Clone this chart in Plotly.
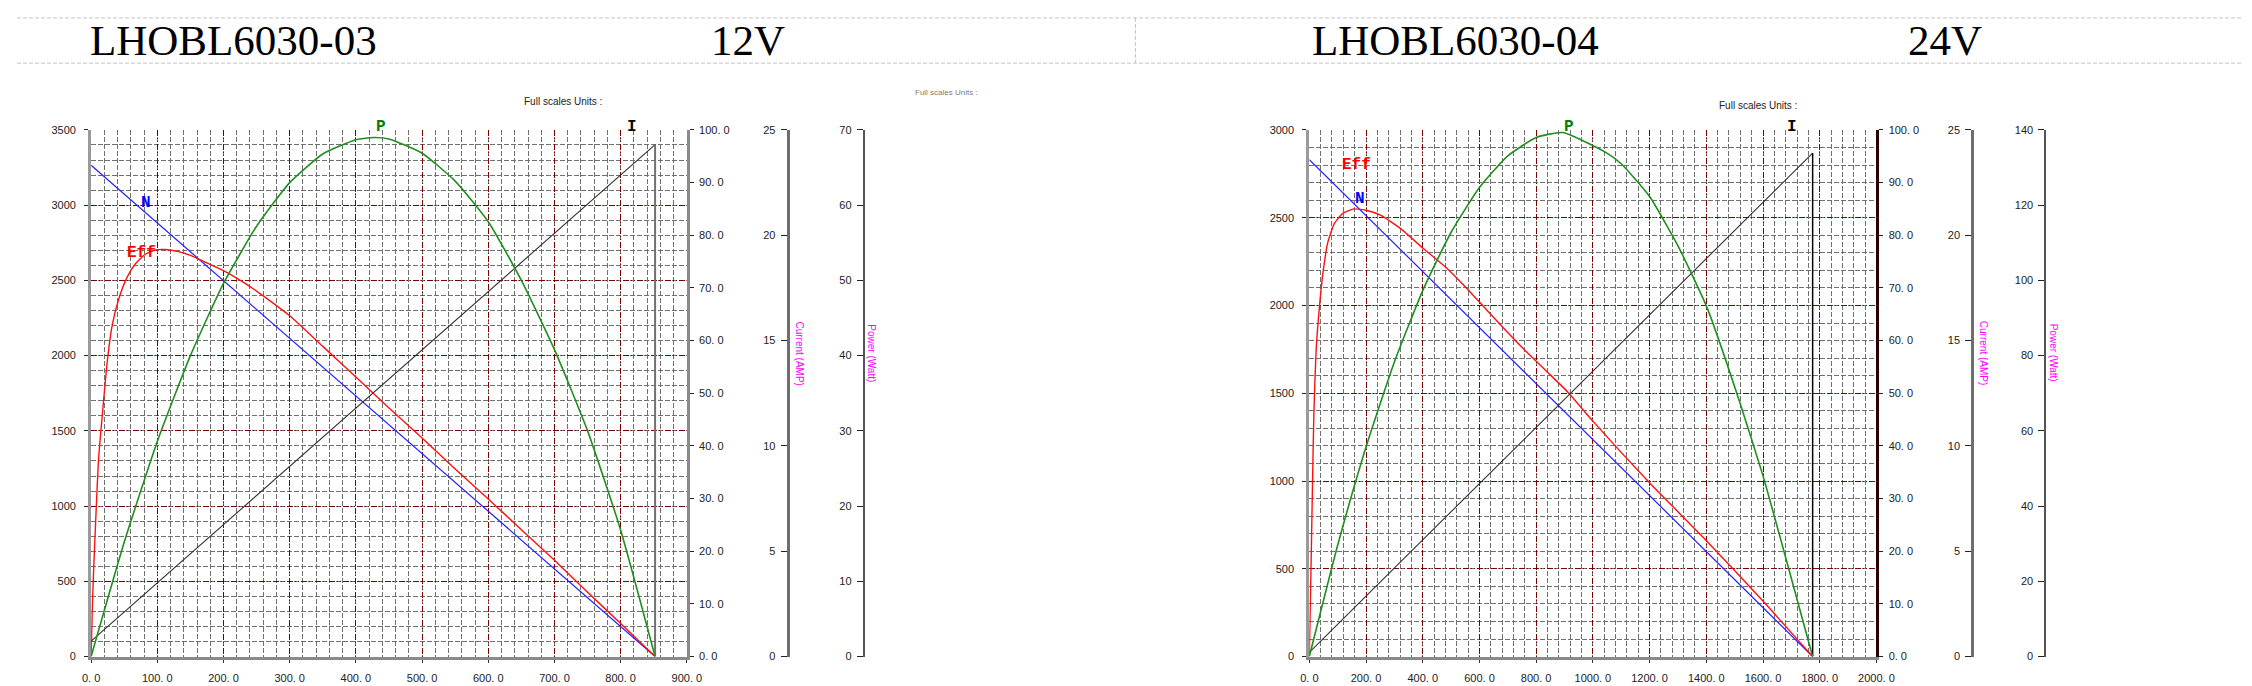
import plotly.graph_objects as go

W, H = 2252, 686

# ------------------------------------------------------------------
# DATA  -- LHOBL6030-03 (12V)
# ------------------------------------------------------------------
torque_lin_12 = [0, 852]            # torque (mN.m) end points of linear curves
speed_12 = [3265, 0]                # N  (rpm)
current_12 = [0.73, 24.3]           # I  (A)

eff_torque_12 = [0, 2, 4, 7, 11, 17, 25, 32, 42, 55, 67, 82, 97, 112, 132, 152,
                 172, 200, 231, 261, 300, 350, 400, 450, 500, 550, 600, 650,
                 700, 750, 800, 852]
eff_12 = [0, 10, 17, 26, 37, 46, 56.7, 63.0, 68.0, 72.2, 74.6, 76.4, 77.2, 77.3,
          76.9, 76.1, 74.9, 73.3, 71.0, 68.4, 64.7, 58.9, 53.1, 47.2, 41.5, 35.6,
          29.9, 24.1, 18.3, 12.2, 6.3, 0]

pow_torque_12 = [0, 50, 100, 150, 200, 250, 300, 350, 400, 427, 450, 500, 550,
                 600, 650, 700, 750, 800, 852]
power_12 = [0, 15.2, 28.6, 40.0, 49.6, 57.2, 63.0, 66.8, 68.7, 69.0, 68.8, 66.9,
            63.2, 57.8, 50.0, 40.8, 30.0, 16.8, 0]

# ------------------------------------------------------------------
# DATA  -- LHOBL6030-04 (24V)
# ------------------------------------------------------------------
torque_lin_24 = [0, 1775]
speed_24 = [2831, 0]
current_24 = [0.2, 23.9]

eff_torque_24 = [0, 5, 11, 16, 24, 36, 48, 65, 88, 117, 158, 204, 251, 321, 402,
                 484, 554, 624, 693, 763, 838, 912, 1000, 1198, 1397, 1599, 1775]
eff_24 = [0, 14, 32, 46, 58.2, 66.6, 72.8, 78.6, 82.2, 84.1, 85.0, 84.7, 83.8,
          81.3, 77.5, 73.8, 70.0, 65.9, 61.9, 58.0, 54.1, 50.2, 44.7, 33.1, 22.2,
          10.6, 0]

pow_torque_24 = [0, 100, 200, 300, 400, 500, 600, 700, 800, 894, 1044, 1100,
                 1200, 1300, 1403, 1512, 1599, 1668, 1775]
power_24 = [0, 29.6, 55.7, 78.3, 97.3, 112.8, 124.7, 133.1, 138.0, 139.3, 134.1,
            131.0, 122.3, 109.2, 92.7, 69.0, 48.3, 29.6, 0]

# ------------------------------------------------------------------
# TICKS / LABELS
# ------------------------------------------------------------------
x_ticks_12 = [0, 100, 200, 300, 400, 500, 600, 700, 800, 900]
x_labels_12 = ["0. 0", "100. 0", "200. 0", "300. 0", "400. 0", "500. 0",
               "600. 0", "700. 0", "800. 0", "900. 0"]
x_ticks_24 = [0, 200, 400, 600, 800, 1000, 1200, 1400, 1600, 1800, 2000]
x_labels_24 = ["0. 0", "200. 0", "400. 0", "600. 0", "800. 0", "1000. 0",
               "1200. 0", "1400. 0", "1600. 0", "1800. 0", "2000. 0"]
rpm_ticks_12 = [0, 500, 1000, 1500, 2000, 2500, 3000, 3500]
rpm_ticks_24 = [0, 500, 1000, 1500, 2000, 2500, 3000]
eff_ticks = [0, 10, 20, 30, 40, 50, 60, 70, 80, 90, 100]
eff_labels = ["0. 0", "10. 0", "20. 0", "30. 0", "40. 0", "50. 0", "60. 0",
              "70. 0", "80. 0", "90. 0", "100. 0"]
cur_ticks = [0, 5, 10, 15, 20, 25]
pow_ticks_12 = [0, 10, 20, 30, 40, 50, 60, 70]
pow_ticks_24 = [0, 20, 40, 60, 80, 100, 120, 140]

titles = [("LHOBL6030-03", "12V"), ("LHOBL6030-04", "24V")]


def px(x):
    return x / W


def py(y):
    return 1 - y / H


RED_GRID = "#7a0000"
GREY_GRID = "#707070"
RED_DASH = "6px,2px,1px,2px,1px,2px"
GREY_DASH = "5px,2px"
TICK_FONT = dict(family="Liberation Sans", size=11, color="#222")

fig = go.Figure()

SPL = dict(shape="spline", smoothing=0.5)

# ---------------- traces: left chart ----------------
fig.add_trace(go.Scatter(x=torque_lin_12, y=speed_12, mode="lines",
                         line=dict(color="#2020ff", width=1.2), xaxis="x", yaxis="y"))
fig.add_trace(go.Scatter(x=eff_torque_12, y=eff_12, mode="lines",
                         line=dict(color="#ff1010", width=1.4, **SPL), xaxis="x", yaxis="y2"))
fig.add_trace(go.Scatter(x=torque_lin_12, y=current_12, mode="lines",
                         line=dict(color="#303030", width=1.1), xaxis="x", yaxis="y3"))
fig.add_trace(go.Scatter(x=[torque_lin_12[-1], torque_lin_12[-1]],
                         y=[current_12[-1], 0], mode="lines",
                         line=dict(color="#707070", width=2), xaxis="x", yaxis="y3"))
fig.add_trace(go.Scatter(x=pow_torque_12, y=power_12, mode="lines",
                         line=dict(color="#1f8f1f", width=1.6, **SPL),
                         xaxis="x", yaxis="y4"))

# ---------------- traces: right chart ----------------
fig.add_trace(go.Scatter(x=torque_lin_24, y=speed_24, mode="lines",
                         line=dict(color="#2020ff", width=1.2), xaxis="x2", yaxis="y5"))
fig.add_trace(go.Scatter(x=eff_torque_24, y=eff_24, mode="lines",
                         line=dict(color="#ff1010", width=1.4, **SPL), xaxis="x2", yaxis="y6"))
fig.add_trace(go.Scatter(x=torque_lin_24, y=current_24, mode="lines",
                         line=dict(color="#303030", width=1.1), xaxis="x2", yaxis="y7"))
fig.add_trace(go.Scatter(x=[torque_lin_24[-1], torque_lin_24[-1]],
                         y=[current_24[-1], 0], mode="lines",
                         line=dict(color="#000000", width=1.5), xaxis="x2", yaxis="y7"))
fig.add_trace(go.Scatter(x=pow_torque_24, y=power_24, mode="lines",
                         line=dict(color="#1f8f1f", width=1.6, **SPL),
                         xaxis="x2", yaxis="y8"))

y_dom = [py(654), py(118)]


def x_axis(dom, rng, ticks, labels, minor, anchor):
    return dict(domain=dom, range=rng, anchor=anchor, tickmode="array",
                tickvals=ticks, ticktext=labels, showgrid=True,
                gridcolor=RED_GRID, griddash=RED_DASH, gridwidth=1.3,
                minor=dict(tick0=0, dtick=minor, showgrid=True, gridcolor=GREY_GRID,
                           griddash=GREY_DASH, gridwidth=1.3),
                showline=True, linecolor="#8a8a8a", linewidth=3,
                ticks="outside", ticklen=3, tickcolor="#333",
                tickfont=TICK_FONT, ticklabelstandoff=6, zeroline=False,
                fixedrange=True)


def rpm_axis(rng, ticks, anchor):
    return dict(domain=y_dom, range=rng, anchor=anchor, tickmode="array",
                tickvals=ticks, ticktext=[str(t) for t in ticks], showgrid=True,
                gridcolor=RED_GRID, griddash=RED_DASH, gridwidth=1.3,
                minor=dict(tick0=0, dtick=100, showgrid=True, gridcolor=GREY_GRID,
                           griddash=GREY_DASH, gridwidth=1.3),
                showline=True, linecolor="#9a9a9a", linewidth=3,
                ticks="outside", ticklen=4, tickcolor="#222",
                tickfont=TICK_FONT, ticklabelstandoff=6, zeroline=False)


def eff_axis(over, anchor, linecolor):
    return dict(overlaying=over, anchor=anchor, side="right", range=[0, 100],
                tickmode="array", tickvals=eff_ticks, ticktext=eff_labels,
                showgrid=False, showline=True, linecolor=linecolor, linewidth=3,
                ticks="outside", ticklen=4, tickcolor="#222", tickfont=TICK_FONT,
                ticklabelstandoff=3, zeroline=False)


def free_axis(over, pos, rng, ticks, linecolor, width):
    return dict(overlaying=over, anchor="free", position=pos, side="left",
                range=rng, tickmode="array", tickvals=ticks,
                ticktext=[str(t) for t in ticks], showgrid=False, showline=True,
                linecolor=linecolor, linewidth=width, ticks="outside", ticklen=6,
                tickcolor="#222", tickfont=TICK_FONT, ticklabelstandoff=3,
                zeroline=False)


fig.update_layout(
    width=W, height=H, margin=dict(l=0, r=0, t=0, b=0),
    paper_bgcolor="white", plot_bgcolor="white", showlegend=False,
    xaxis=x_axis([px(75), px(678)], [0, 900], x_ticks_12, x_labels_12, 20, "y"),
    yaxis=rpm_axis([0, 3500], rpm_ticks_12, "x"),
    yaxis2=eff_axis("y", "x", "#8a8a8a"),
    yaxis3=free_axis("y", px(780), [0, 25], cur_ticks, "#6e6e6e", 3),
    yaxis4=free_axis("y", px(857), [0, 70], pow_ticks_12, "#555555", 2),
    xaxis2=x_axis([px(1308), px(1882)], [0, 2000], x_ticks_24, x_labels_24, 40, "y5"),
    yaxis5=rpm_axis([0, 3000], rpm_ticks_24, "x2"),
    yaxis6=eff_axis("y5", "x2", "#2a0000"),
    yaxis7=free_axis("y5", px(1979), [0, 25], cur_ticks, "#6e6e6e", 3),
    yaxis8=free_axis("y5", px(2053), [0, 140], pow_ticks_24, "#555555", 2),
)

# ---------------- header separators ----------------
shapes = [
    dict(type="line", xref="paper", yref="paper", x0=0, x1=1, y0=py(4), y1=py(4),
         line=dict(color="#c4c4c4", width=1, dash="4px,2px")),
    dict(type="line", xref="paper", yref="paper", x0=0, x1=1, y0=py(50), y1=py(50),
         line=dict(color="#c4c4c4", width=1, dash="4px,2px")),
    dict(type="line", xref="paper", yref="paper", x0=px(1132), x1=px(1132),
         y0=py(4), y1=py(50), line=dict(color="#c4c4c4", width=1, dash="4px,2px")),
]
fig.update_layout(shapes=shapes)

ann = []
TITLE_FONT = dict(family="Liberation Serif", size=43, color="black")
for (name, volt), xn, xv in zip(titles, [72, 1309], [700, 1912]):
    ann.append(dict(text=name, x=px(xn), y=py(27), xref="paper", yref="paper",
                    xanchor="left", yanchor="middle", showarrow=False, font=TITLE_FONT))
    ann.append(dict(text=volt, x=px(xv), y=py(27), xref="paper", yref="paper",
                    xanchor="left", yanchor="middle", showarrow=False, font=TITLE_FONT))

SMALL = dict(family="Liberation Sans", size=10, color="#222")
for txt, x, y, f in [("Full scales Units :", 553, 89, SMALL),
                     ("Full scales Units :", 941, 80, dict(family="Liberation Sans", size=8, color="#8a7a6a")),
                     ("Full scales Units :", 1762, 93, SMALL)]:
    ann.append(dict(text=txt, x=px(x), y=py(y), xref="paper", yref="paper",
                    xanchor="center", yanchor="middle", showarrow=False, font=f))

MAG = dict(family="Liberation Sans", size=10, color="#ff00ff")
for txt, x in [("Current (AMP)", 792), ("Power (Watt)", 864),
               ("Current (AMP)", 1990), ("Power (Watt)", 2061)]:
    ann.append(dict(text=txt, x=px(x), y=py(345), xref="paper", yref="paper",
                    xanchor="center", yanchor="middle", textangle=90,
                    showarrow=False, font=MAG))

LBL = "Liberation Mono"
for txt, x, y, c in [("N", 131, 192, "#0000ff"), ("Eff", 126, 243, "#ff0000"),
                     ("P", 368, 115, "#008000"), ("I", 622, 115, "#000000"),
                     ("Eff", 1356, 154, "#ff0000"), ("N", 1359, 188, "#0000ff"),
                     ("P", 1571, 115, "#008000"), ("I", 1797, 115, "#000000")]:
    ann.append(dict(text="<b>%s</b>" % txt, x=px(x), y=py(y), xref="paper", yref="paper",
                    xanchor="center", yanchor="middle", showarrow=False,
                    font=dict(family=LBL, size=16, color=c)))

fig.update_layout(annotations=ann)

fig.write_html("out.html")
